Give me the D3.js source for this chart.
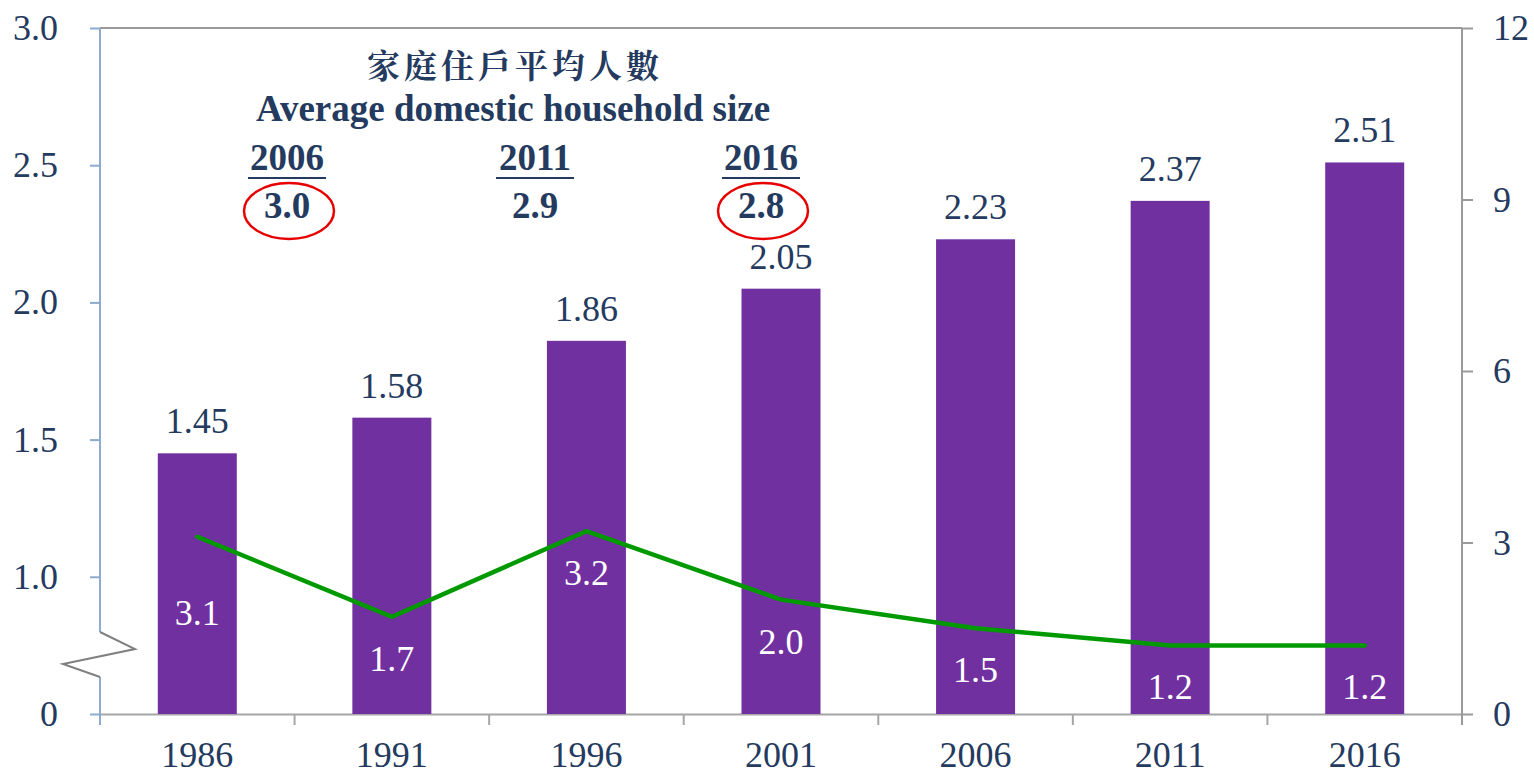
<!DOCTYPE html>
<html>
<head>
<meta charset="utf-8">
<script src="https://cdn.jsdelivr.net/npm/d3@7"></script>
<style>
  html, body { margin: 0; padding: 0; background: #fff; }
  svg text { font-family: "Liberation Serif", "Times New Roman", serif; }
</style>
</head>
<body>
<svg id="chart" width="1534" height="775"></svg>
<script>
// data
var years = ["1986", "1991", "1996", "2001", "2006", "2011", "2016"];
var barValues = [1.45, 1.58, 1.86, 2.05, 2.23, 2.37, 2.51];
var lineValues = [3.1, 1.7, 3.2, 2.0, 1.5, 1.2, 1.2];
var leftTicks = [0, 1.0, 1.5, 2.0, 2.5, 3.0];
var rightTicks = [0, 3, 6, 9, 12];
var sizeYears = ["2006", "2011", "2016"];
var sizeValues = ["3.0", "2.9", "2.8"];
var circledYears = ["2006", "2016"];

// layout of the title block (not data)
var sizeCentres = [287, 535, 761];

var textColor = "#243a5e";
var svg = d3.select("#chart");
var margin = {top: 28, right: 72, bottom: 61, left: 100};
var width = 1534 - margin.left - margin.right;
var height = 775 - margin.top - margin.bottom;
var g = svg.append("g").attr("transform", "translate(" + margin.left + "," + margin.top + ")");

var x = d3.scaleBand()
    .domain(years)
    .range([0, width])
    .paddingInner(0.594)
    .paddingOuter(0.297);

// broken axis: 0 -> 1.0 takes the same room as one 0.5 step
var yL = d3.scaleLinear()
    .domain([0, 1, 3])
    .range([height, height - height / 5, 0]);

var yR = d3.scaleLinear()
    .domain([0, 12])
    .range([height, 0]);

// frame: top border, x axis
g.append("line").attr("x1", 0).attr("x2", width).attr("y1", 0).attr("y2", 0)
  .attr("stroke", "#9a9a9a").attr("stroke-width", 2);

var xAxis = g.append("g")
  .attr("transform", "translate(0," + height + ")")
  .call(d3.axisBottom(x).tickSize(0).tickPadding(27));
xAxis.select(".domain").attr("stroke", "#a6a6a6").attr("stroke-width", 2);
xAxis.selectAll("text").attr("font-size", 36).attr("fill", textColor)
  .attr("font-family", "Liberation Serif, serif");

// x tick marks between categories
g.selectAll(".xsep")
  .data(years.slice(1))
  .enter().append("line")
    .attr("x1", d => x(d) - x.step() * x.paddingInner() / 2)
    .attr("x2", d => x(d) - x.step() * x.paddingInner() / 2)
    .attr("y1", height).attr("y2", height + 11)
    .attr("stroke", "#a6a6a6").attr("stroke-width", 2);

// bars
g.selectAll(".bar")
  .data(barValues)
  .enter().append("rect")
    .attr("x", (d, i) => x(years[i]))
    .attr("y", d => yL(d))
    .attr("width", x.bandwidth())
    .attr("height", d => height - yL(d))
    .attr("fill", "#7030a0");

g.selectAll(".barLabel")
  .data(barValues)
  .enter().append("text")
    .attr("x", (d, i) => x(years[i]) + x.bandwidth() / 2)
    .attr("y", d => yL(d) - 20)
    .attr("text-anchor", "middle")
    .attr("font-size", 36)
    .attr("fill", textColor)
    .text(d => d.toFixed(2));

// left axis
var leftAxis = g.append("g")
  .call(d3.axisLeft(yL).tickValues(leftTicks).tickSize(10).tickPadding(32)
    .tickFormat(d => d === 0 ? "0" : d3.format(".1f")(d)));
leftAxis.select(".domain").remove();
leftAxis.selectAll("line").attr("stroke", "#8eaad0").attr("stroke-width", 2);
leftAxis.selectAll("text").attr("font-size", 36).attr("fill", textColor)
  .attr("font-family", "Liberation Serif, serif");

var breakTop = 604, breakBot = 649;
g.append("path")
  .attr("d", "M0,0V" + breakTop)
  .attr("fill", "none").attr("stroke", "#8eaad0").attr("stroke-width", 2);
g.append("path")
  .attr("d", "M0," + breakBot + "V" + (height + 11))
  .attr("fill", "none").attr("stroke", "#8eaad0").attr("stroke-width", 2);
g.append("path")
  .attr("d", "M0," + breakTop + "L35," + (breakTop + 17) + "L-37," + (breakTop + 32) + "L0," + breakBot)
  .attr("fill", "none").attr("stroke", "#808080").attr("stroke-width", 2);

// right axis
var rightAxis = g.append("g")
  .attr("transform", "translate(" + width + ",0)")
  .call(d3.axisRight(yR).tickValues(rightTicks).tickSize(11).tickPadding(20));
rightAxis.select(".domain").remove();
rightAxis.selectAll("line").attr("stroke", "#9a9a9a").attr("stroke-width", 2);
rightAxis.selectAll("text").attr("font-size", 36).attr("fill", textColor)
  .attr("font-family", "Liberation Serif, serif");
g.append("line").attr("x1", width).attr("x2", width).attr("y1", 0).attr("y2", height + 11)
  .attr("stroke", "#9a9a9a").attr("stroke-width", 2);

// line series
var line = d3.line()
  .x((d, i) => x(years[i]) + x.bandwidth() / 2)
  .y(d => yR(d));

g.append("path")
  .datum(lineValues)
  .attr("d", line)
  .attr("fill", "none")
  .attr("stroke", "#009a00")
  .attr("stroke-width", 4.5)
  .attr("stroke-linecap", "round");

g.selectAll(".lineLabel")
  .data(lineValues)
  .enter().append("text")
    .attr("x", (d, i) => x(years[i]) + x.bandwidth() / 2)
    .attr("y", (d, i) => yR(d) + (i === 0 ? 88 : 54))
    .attr("text-anchor", "middle")
    .attr("font-size", 36)
    .attr("fill", "#fff")
    .text(d => d.toFixed(1));

// title block
var title = svg.append("g").attr("fill", textColor).attr("text-anchor", "middle");
title.append("text")
  .attr("x", 515).attr("y", 78)
  .attr("font-size", 33)
  .attr("font-weight", "bold")
  .attr("letter-spacing", 4)
  .style("font-family", "'Noto Serif CJK TC', 'Noto Sans CJK TC', serif")
  .text("家庭住戶平均人數");
title.append("text")
  .attr("x", 513).attr("y", 121)
  .attr("font-size", 37)
  .attr("font-weight", "bold")
  .text("Average domestic household size");

sizeYears.forEach(function(yr, i) {
  var cx = sizeCentres[i];
  title.append("text")
    .attr("x", cx).attr("y", 170)
    .attr("font-size", 37).attr("font-weight", "bold")
    .text(yr);
  title.append("line")
    .attr("x1", cx - 39).attr("x2", cx + 39)
    .attr("y1", 178).attr("y2", 178)
    .attr("stroke", textColor).attr("stroke-width", 2);
  title.append("text")
    .attr("x", cx).attr("y", 218)
    .attr("font-size", 37).attr("font-weight", "bold")
    .text(sizeValues[i]);
  if (circledYears.indexOf(yr) >= 0) {
    title.append("ellipse")
      .attr("cx", cx + 2).attr("cy", 211)
      .attr("rx", 45).attr("ry", 28)
      .attr("fill", "none").attr("stroke", "#e60000").attr("stroke-width", 2.5);
  }
});
</script>
</body>
</html>
